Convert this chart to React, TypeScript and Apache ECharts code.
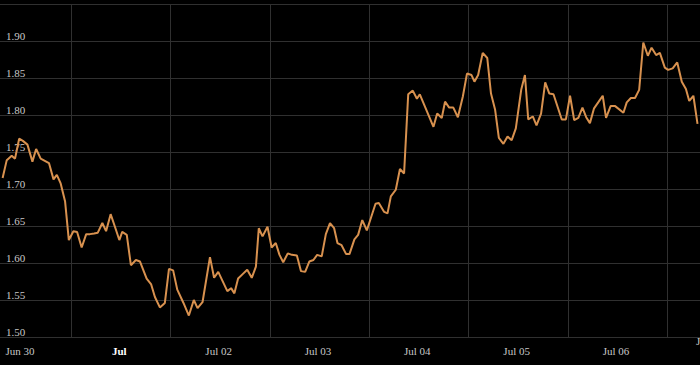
import React, { useEffect, useRef } from "react";
import * as echarts from "echarts";

// hours since Jun 30 00:00
const hours = [
  -4.2, -3.2, -2.0, -1.2, -0.2, 0.7, 1.8, 3.0, 3.9, 5.0, 6.0, 7.0, 8.1, 8.9, 9.8, 10.9, 11.8,
  12.9, 13.8, 14.9, 16.0, 16.9, 17.9, 18.8, 19.9, 20.8, 21.9, 23.0, 24.0, 24.7, 25.8, 26.8,
  28.0, 29.0, 30.6, 31.7, 32.6, 33.8, 35.0, 36.0, 37.0, 38.0, 39.5, 40.8, 42.0, 42.9, 44.1,
  45.9, 46.9, 47.9, 50.1, 51.0, 51.8, 52.7, 53.8, 54.9, 56.0, 57.0, 57.7, 58.6, 59.8, 60.8,
  61.8, 62.7, 63.6, 64.7, 65.7, 66.9, 67.9, 68.9, 69.9, 70.9, 71.8, 72.9, 73.9, 74.9, 75.9,
  76.7, 77.7, 78.8, 79.6, 80.8, 81.7, 82.7, 83.8, 85.9, 86.7, 88.0, 88.8, 89.6, 90.8, 91.8,
  92.8, 93.8, 94.9, 95.9, 96.6, 99.9, 100.8, 101.9, 102.7, 103.7, 104.7, 105.8, 107.0, 108.0,
  109.1, 109.8, 110.7, 111.8, 112.9, 113.8, 114.8, 115.7, 116.8, 117.8, 118.8, 119.8, 121.1,
  122.0, 122.8, 123.9, 124.8, 125.9, 126.9, 127.9, 128.9, 130.9, 131.9, 132.9, 133.9, 134.9,
  135.9, 136.8, 137.7, 138.7, 139.7, 140.8, 141.6, 142.7, 143.8, 145.8, 146.6, 147.6, 148.6,
  149.6, 150.6, 151.7, 152.6, 153.7, 154.6, 155.8, 156.6, 157.7, 158.8, 159.9, 160.9, 161.7,
  162.7, 163.7,
];

const values = [
  1.715, 1.739, 1.745, 1.741, 1.768, 1.765, 1.76, 1.737, 1.754, 1.741, 1.738, 1.735, 1.713,
  1.719, 1.708, 1.683, 1.631, 1.643, 1.642, 1.621, 1.639, 1.639, 1.64, 1.641, 1.654, 1.643,
  1.666, 1.648, 1.631, 1.642, 1.638, 1.597, 1.604, 1.602, 1.579, 1.571, 1.554, 1.54, 1.546,
  1.592, 1.59, 1.564, 1.546, 1.529, 1.55, 1.539, 1.547, 1.608, 1.58, 1.588, 1.562, 1.566,
  1.559, 1.579, 1.585, 1.591, 1.58, 1.595, 1.647, 1.636, 1.649, 1.621, 1.627, 1.611, 1.601,
  1.613, 1.611, 1.61, 1.589, 1.588, 1.602, 1.604, 1.611, 1.609, 1.639, 1.654, 1.647, 1.627,
  1.624, 1.612, 1.612, 1.632, 1.638, 1.658, 1.644, 1.68, 1.681, 1.669, 1.667, 1.69, 1.699,
  1.727, 1.721, 1.828, 1.833, 1.822, 1.828, 1.784, 1.802, 1.796, 1.818, 1.81, 1.81, 1.797,
  1.825, 1.856, 1.854, 1.845, 1.854, 1.884, 1.877, 1.829, 1.807, 1.769, 1.761, 1.771, 1.766,
  1.782, 1.834, 1.854, 1.794, 1.798, 1.786, 1.802, 1.844, 1.829, 1.828, 1.794, 1.794, 1.826,
  1.793, 1.796, 1.81, 1.797, 1.789, 1.809, 1.817, 1.826, 1.796, 1.812, 1.812, 1.803, 1.817,
  1.823, 1.823, 1.834, 1.898, 1.88, 1.891, 1.881, 1.884, 1.864, 1.861, 1.863, 1.871, 1.845,
  1.835, 1.819, 1.826, 1.788,
];

const labelHours = [0, 24, 48, 72, 96, 120, 144];
const labelTexts = ["Jun 30", "Jul", "Jul 02", "Jul 03", "Jul 04", "Jul 05", "Jul 06"];
const gridHours = [12.4, 36.4, 60.4, 84.4, 108.4, 132.4, 156.4];
const yTicks = [1.5, 1.55, 1.6, 1.65, 1.7, 1.75, 1.8, 1.85, 1.9, 1.95];

const FONT = "'Liberation Serif', 'Times New Roman', serif";

export default function App() {
  const ref = useRef<HTMLDivElement>(null);
  useEffect(() => {
    if (!ref.current) return;
    const chart = echarts.init(ref.current, null, { renderer: "svg" });
    const data = hours.map((h, i) => [h, values[i]]);
    chart.setOption({
      animation: false,
      backgroundColor: "#000000",
      grid: { left: 0, right: 0, top: 4, bottom: 28, containLabel: false },
      xAxis: {
        type: "value",
        min: -4.83,
        max: 164.3,
        axisLine: { show: false },
        axisTick: { show: false, customValues: gridHours },
        splitLine: { show: true, lineStyle: { color: "#303030", width: 1 } },
        axisLabel: {
          customValues: labelHours,
          margin: 8,
          fontFamily: FONT,
          fontSize: 11,
          lineHeight: 11,
          color: "#c8c8c8",
          formatter: (v: number) => {
            const idx = labelHours.indexOf(Math.round(v));
            const t = idx >= 0 ? labelTexts[idx] : "";
            return t === "Jul" ? "{b|" + t + "}" : t;
          },
          rich: {
            b: { fontFamily: FONT, fontSize: 11, fontWeight: "bold", color: "#ffffff", lineHeight: 11 },
          },
        },
      },
      yAxis: {
        type: "value",
        min: yTicks[0],
        max: yTicks[yTicks.length - 1],
        interval: 0.05,
        position: "left",
        axisLine: { show: false },
        axisTick: { show: false },
        splitLine: { show: true, lineStyle: { color: "#303030", width: 1 } },
        axisLabel: {
          inside: true,
          margin: 6,
          showMaxLabel: false,
          verticalAlign: "bottom",
          lineHeight: 11,
          fontFamily: FONT,
          fontSize: 11,
          color: "#c8c8c8",
          formatter: (v: number) => v.toFixed(2),
        },
      },
      graphic: [
        {
          type: "text",
          left: 696,
          top: 335,
          style: { text: "J", fill: "#c8c8c8", font: "11px 'Liberation Serif', serif" },
        },
      ],
      series: [
        {
          type: "line",
          data,
          showSymbol: false,
          symbol: "none",
          lineStyle: { color: "#d8914f", width: 2 },
          itemStyle: { color: "#d8914f" },
          z: 3,
        },
      ],
    });
    return () => chart.dispose();
  }, []);
  return <div ref={ref} style={{ width: 700, height: 365, position: "absolute", left: 0, top: 0 }} />;
}
